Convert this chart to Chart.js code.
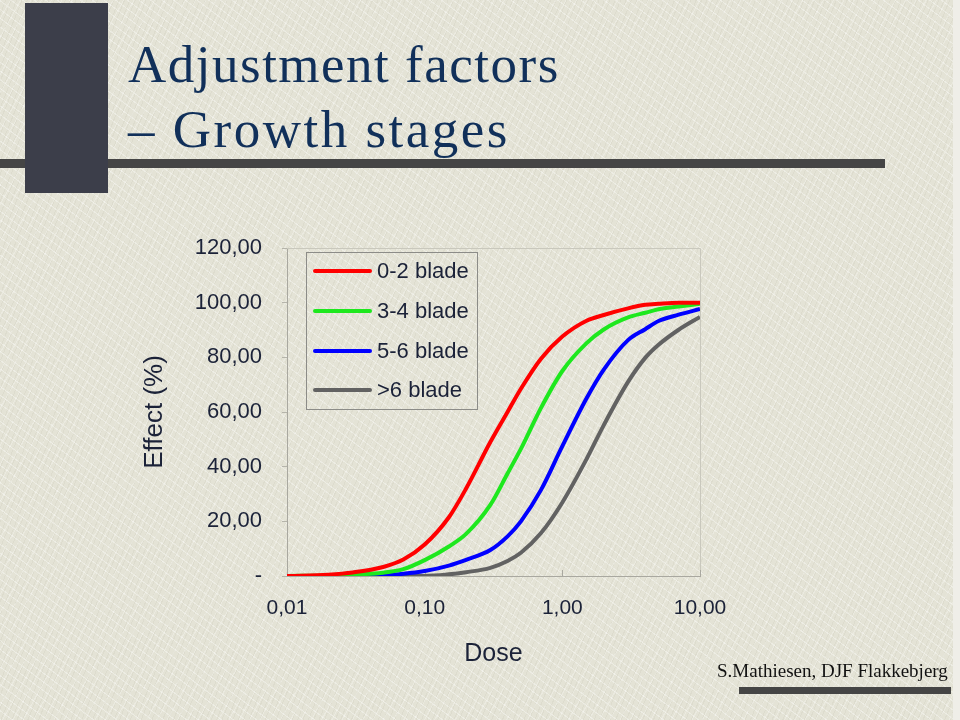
<!DOCTYPE html>
<html>
<head>
<meta charset="utf-8">
<script src="https://cdn.jsdelivr.net/npm/chart.js@4"></script>
<style>
  html, body { margin: 0; padding: 0; }
  body {
    width: 960px; height: 720px; position: relative; overflow: hidden;
    background-color: #e4e3d6;
    background-image:
      repeating-linear-gradient(37deg, rgba(255,255,255,0.35) 0 1px, transparent 1px 7px),
      repeating-linear-gradient(-61deg, rgba(255,255,255,0.25) 0 1px, transparent 1px 9px),
      repeating-linear-gradient(112deg, rgba(190,188,170,0.18) 0 1px, transparent 1px 5px);
  }
  .edge { position: absolute; left: 953px; top: 0; width: 7px; height: 720px; background: #efeee8; }
  .block { position: absolute; left: 25px; top: 3px; width: 83px; height: 190px; background: #3c3e4a; z-index: 2; }
  .rule { position: absolute; left: 0; top: 159px; width: 885px; height: 9px; background: #454545; z-index: 1; }
  .title {
    position: absolute; left: 128px; font-family: "Liberation Serif", "Times New Roman", serif;
    font-size: 53px; line-height: 1; color: #11305a; letter-spacing: 1.5px; white-space: nowrap;
  }
  .footer {
    position: absolute; left: 717px; top: 661px; font-family: "Liberation Serif", "Times New Roman", serif;
    font-size: 19px; line-height: 1; color: #111; white-space: nowrap;
  }
  .footbar { position: absolute; left: 739px; top: 687px; width: 212px; height: 7px; background: #454545; }
  #chart { position: absolute; left: 0; top: 0; }
  #legend {
    position: absolute; left: 306px; top: 252px; width: 172px; height: 158px;
    border: 1px solid #8c8c88; box-sizing: border-box;
    font-family: "Liberation Sans", Arial, sans-serif; font-size: 22px; color: #1b2238;
  }
  .row { position: absolute; left: 6px; height: 26px; line-height: 26px; white-space: nowrap; }
  .swatch { position: absolute; left: 0; top: 11px; width: 59px; height: 4px; border-radius: 2px; }
  .lbl { position: absolute; left: 64px; top: 0; }
</style>
</head>
<body>
<div class="edge"></div>
<div class="rule"></div>
<div class="block"></div>
<div class="title" style="top:38px">Adjustment factors</div>
<div class="title" style="top:103px;letter-spacing:2.5px">– Growth stages</div>
<canvas id="chart" width="960" height="720"></canvas>
<div id="legend"></div>
<div class="footer">S.Mathiesen, DJF Flakkebjerg</div>
<div class="footbar"></div>
<script>
// dose grid (log axis)
var doses = [0.01, 0.02, 0.03, 0.05, 0.07, 0.1, 0.15, 0.2, 0.3, 0.4, 0.5, 0.7, 1, 1.5, 2, 3, 4, 5, 7, 10];

// effect (%) per growth stage
var blade02 = [0, 0.5, 1.3, 3.3, 6, 11.5, 21.5, 32, 49, 60, 68.5, 79.5, 87.6, 93.4, 95.5, 97.9, 99.2, 99.6, 100, 100];
var blade34 = [0, 0.2, 0.5, 1.2, 2.5, 5.8, 10.8, 15.4, 26, 37.5, 46.5, 61.5, 75, 85.2, 90.2, 94.6, 96.3, 97.6, 98.6, 99.6];
var blade56 = [0, 0, 0, 0.3, 0.8, 1.8, 3.8, 5.9, 9.5, 14.5, 20, 31.5, 47.5, 65, 75.5, 86.3, 90.3, 93.3, 95.6, 97.7];
var blade6p = [0, 0, 0, 0, 0, 0, 0.6, 1.4, 3, 5.5, 8.5, 15.7, 26.9, 42.8, 55.2, 71, 79.8, 84.6, 90.1, 94.8];

var seriesNames = ['0-2 blade', '3-4 blade', '5-6 blade', '>6 blade'];
var seriesColors = ['#ff0000', '#1ee81e', '#0000ff', '#626262'];

var xTickValues = [0.01, 0.1, 1, 10];
var xTickLabels = ['0,01', '0,10', '1,00', '10,00'];
var yTickLabels = ['-', '20,00', '40,00', '60,00', '80,00', '100,00', '120,00'];

function toPoints(vals){
    var pts = [];
    for(var i = 0; i < doses.length; i++){
        pts.push({x: doses[i], y: vals[i]});
    }
    return pts;
}

var allSeries = [blade02, blade34, blade56, blade6p];
var datasets = [];
for(var s = 0; s < allSeries.length; s++){
    datasets.push({
        label: seriesNames[s],
        data: toPoints(allSeries[s]),
        borderColor: seriesColors[s],
        backgroundColor: seriesColors[s],
        borderWidth: 4,
        pointRadius: 0,
        cubicInterpolationMode: 'monotone',
        fill: false
    });
}

var textColor = '#1b2238';
var fontFam = '"Liberation Sans", Arial, sans-serif';

// light frame on top/right + small inward ticks on the x axis
var plotFrame = {
    id: 'plotFrame',
    beforeDatasetsDraw: function(chart){
        var a = chart.chartArea, ctx = chart.ctx;
        ctx.save();
        ctx.strokeStyle = '#c9c8bd';
        ctx.lineWidth = 1;
        ctx.beginPath();
        ctx.moveTo(a.left, a.top + 0.5);
        ctx.lineTo(a.right + 0.5, a.top + 0.5);
        ctx.lineTo(a.right + 0.5, a.bottom);
        ctx.stroke();
        ctx.strokeStyle = '#a9a8a0';
        ctx.beginPath();
        for(var i = 0; i < xTickValues.length; i++){
            var px = Math.round(chart.scales.x.getPixelForValue(xTickValues[i])) + 0.5;
            ctx.moveTo(px, a.bottom);
            ctx.lineTo(px, a.bottom - 6);
        }
        ctx.stroke();
        ctx.restore();
    }
};

var ctx = document.getElementById('chart');
var chart = new Chart(ctx, {
    type: 'line',
    data: { datasets: datasets },
    plugins: [plotFrame],
    options: {
        responsive: false,
        animation: false,
        layout: { padding: { left: 139, top: 248, right: 260, bottom: 40 } },
        plugins: { legend: { display: false }, tooltip: { enabled: false } },
        scales: {
            x: {
                type: 'logarithmic',
                min: 0.01,
                max: 10,
                afterBuildTicks: function(scale){
                    scale.ticks = xTickValues.map(function(v){ return {value: v}; });
                },
                afterFit: function(scale){ scale.height = 104; },
                grid: { display: true, drawOnChartArea: false, drawTicks: false },
                border: { color: '#a9a8a0', width: 1 },
                ticks: {
                    padding: 20,
                    maxRotation: 0,
                    autoSkip: false,
                    color: textColor,
                    font: { family: fontFam, size: 21 },
                    callback: function(value, index){ return xTickLabels[index]; }
                },
                title: {
                    display: true,
                    text: 'Dose',
                    color: textColor,
                    font: { family: fontFam, size: 25 },
                    padding: { top: 0, bottom: 11 }
                }
            },
            y: {
                min: 0,
                max: 120,
                afterFit: function(scale){ scale.width = 148; },
                grid: { display: true, drawOnChartArea: false, drawTicks: true, tickLength: 5, color: '#b5b4aa' },
                border: { color: '#a9a8a0', width: 1 },
                ticks: {
                    stepSize: 20,
                    padding: 20,
                    color: textColor,
                    font: { family: fontFam, size: 22 },
                    callback: function(value, index){ return yTickLabels[index]; }
                },
                title: {
                    display: true,
                    text: 'Effect (%)',
                    color: textColor,
                    font: { family: fontFam, size: 26 },
                    padding: { top: 0, bottom: 0 }
                }
            }
        }
    }
});

// legend box inside the plot, built from the datasets
var legend = document.getElementById('legend');
var rowTops = [5, 45, 85, 124];
chart.data.datasets.forEach(function(ds, i){
    var row = document.createElement('div');
    row.className = 'row';
    row.style.top = rowTops[i] + 'px';
    row.innerHTML = '<span class="swatch" style="background:' + ds.borderColor + '"></span><span class="lbl"></span>';
    row.querySelector('.lbl').textContent = ds.label;
    legend.appendChild(row);
});
</script>
</body>
</html>
